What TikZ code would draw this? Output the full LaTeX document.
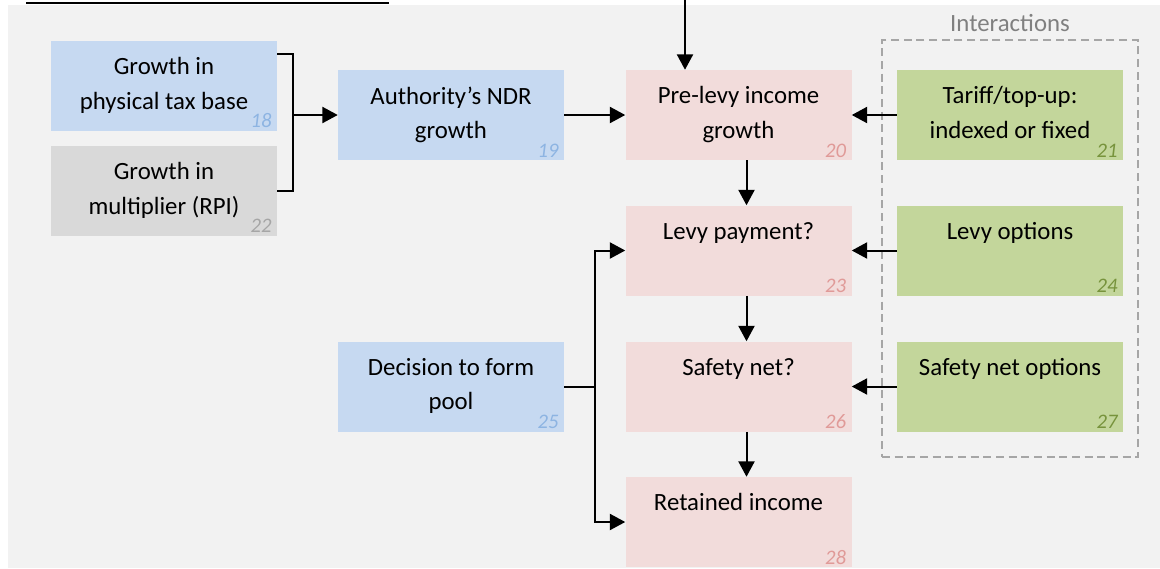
\documentclass[tikz,border=0pt]{standalone}
\usepackage{fontspec}
\setmainfont{Carlito}
\usetikzlibrary{arrows.meta}
\definecolor{panelGray}{HTML}{F2F2F2}
\definecolor{blueFill}{HTML}{C6D9F1}
\definecolor{blueNum}{HTML}{8DB4E2}
\definecolor{grayFill}{HTML}{D9D9D9}
\definecolor{grayNum}{HTML}{A6A6A6}
\definecolor{pinkFill}{HTML}{F2DCDB}
\definecolor{pinkNum}{HTML}{E09A98}
\definecolor{greenFill}{HTML}{C3D69B}
\definecolor{greenNum}{HTML}{77933C}
\definecolor{dashGray}{HTML}{A6A6A6}
\definecolor{labelGray}{HTML}{808080}
\tikzset{
    box/.style={rectangle, inner sep=0pt, minimum width=169.5pt, minimum height=67.5pt},
    bluebox/.style={box, fill=blueFill},
    graybox/.style={box, fill=grayFill},
    pinkbox/.style={box, fill=pinkFill},
    greenbox/.style={box, fill=greenFill},
    txt/.style={anchor=north, align=center, inner sep=0pt, yshift=-12.5pt,
        font=\fontsize{18.6}{26}\selectfont},
    num/.style={anchor=south east, inner xsep=4pt, inner ysep=2pt,
        font=\fontsize{15.5}{18}\selectfont\itshape},
    ln/.style={line width=1.5pt},
    arr/.style={ln, -{Triangle[length=11.5pt,width=12pt]}}
}
\begin{document}
\begin{tikzpicture}[x=0.75pt, y=-0.75pt]
    \useasboundingbox (0,0) rectangle (1160,568);
    \fill[panelGray] (8,5) rectangle (1160,568);
    \draw[line width=1.5pt] (26,3.3) -- (389,3.3);

    % interactions frame
    \node (inter) at (1010,248.5) [rectangle, draw=dashGray, line width=1.5pt,
        dash pattern=on 6pt off 3.5pt, minimum width=192pt, minimum height=312.75pt,
        label={[anchor=base, yshift=6pt, inner sep=0pt, text=labelGray,
            font=\fontsize{18.6}{26}\selectfont]north:Interactions}] {};

    \node (taxbase) at (164,85.5) [bluebox, label={[txt]north:{Growth in\\physical tax base}},
        label={[num, text=blueNum]south east:18}] {};
    \node (rpi) at (164,190.5) [graybox, label={[txt]north:{Growth in\\multiplier (RPI)}},
        label={[num, text=grayNum]south east:22}] {};
    \node (ndr) at (451,115) [bluebox, label={[txt]north:{Authority’s NDR\\growth}},
        label={[num, text=blueNum]south east:19}] {};
    \node (pool) at (451,386.5) [bluebox, label={[txt]north:{Decision to form\\pool}},
        label={[num, text=blueNum]south east:25}] {};

    \node (prelevy) at (738.5,115) [pinkbox, label={[txt]north:{Pre-levy income\\growth}},
        label={[num, text=pinkNum]south east:20}] {};
    \node (levy) at (738.5,250.5) [pinkbox, label={[txt]north:{Levy payment?}},
        label={[num, text=pinkNum]south east:23}] {};
    \node (safety) at (738.5,386.5) [pinkbox, label={[txt]north:{Safety net?}},
        label={[num, text=pinkNum]south east:26}] {};
    \node (retained) at (738.5,522) [pinkbox, label={[txt]north:{Retained income}},
        label={[num, text=pinkNum]south east:28}] {};

    \node (tariff) at (1010,115) [greenbox, label={[txt]north:{Tariff/top-up:\\indexed or fixed}},
        label={[num, text=greenNum]south east:21}] {};
    \node (levyopt) at (1010,250.5) [greenbox, label={[txt]north:{Levy options}},
        label={[num, text=greenNum]south east:24}] {};
    \node (safetyopt) at (1010,386.5) [greenbox, label={[txt]north:{Safety net options}},
        label={[num, text=greenNum]south east:27}] {};

    \coordinate (brtop) at (293,54);
    \coordinate (brbot) at (293,190.5);
    \coordinate (topin) at (685,0);
    \coordinate (jn) at (595,386.5);

    \draw[ln] (taxbase.east |- brtop) -- (brtop) -- (brbot) -- (rpi.east |- brbot);
    \draw[arr] (brtop |- ndr.west) -- (ndr.west);
    \draw[arr] (ndr) -- (prelevy);
    \draw[arr] (topin) -- (topin |- prelevy.north);
    \draw[arr] (tariff) -- (prelevy);
    \draw[arr] (levyopt) -- (levy);
    \draw[arr] (safetyopt) -- (safety);
    \draw[arr] ([xshift=6pt]prelevy.south) -- ([xshift=6pt]levy.north);
    \draw[arr] ([xshift=6pt]levy.south) -- ([xshift=6pt]safety.north);
    \draw[arr] ([xshift=6pt]safety.south) -- ([xshift=6pt]retained.north);
    \draw[ln] (pool.east) -- (jn);
    \draw[arr] (jn) |- (levy.west);
    \draw[arr] (jn) |- (retained.west);
\end{tikzpicture}
\end{document}
